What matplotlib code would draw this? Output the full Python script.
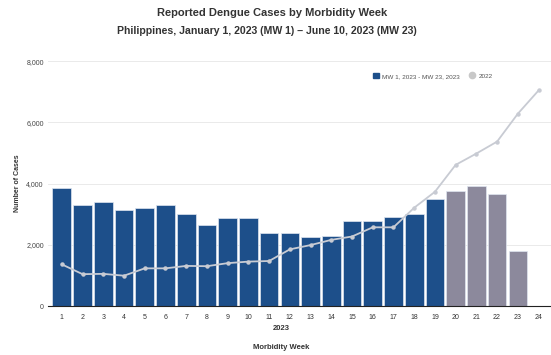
import numpy as np
import matplotlib
matplotlib.use('Agg')
import matplotlib.pyplot as plt
from matplotlib.lines import Line2D
from matplotlib.patches import Patch

plt.rcParams['font.family'] = ['Liberation Sans', 'DejaVu Sans']

# weekly dengue cases, MW 1-23 of 2023
weeks = list(range(1, 24))
cases_2023 = [3870, 3300, 3390, 3130, 3190, 3300, 3000, 2650, 2870, 2870,
              2380, 2380, 2260, 2300, 2790, 2790, 2900, 3020, 3500,
              3760, 3920, 3670, 1810]
# last 4 weeks are still being completed (delayed reports)
n_complete = 19

# same weeks, 2022
weeks_2022 = list(range(1, 25))
cases_2022 = [1360, 1040, 1050, 990, 1230, 1230, 1310, 1300, 1400, 1450,
              1470, 1850, 1990, 2160, 2270, 2570, 2570, 3210, 3730, 4610,
              4980, 5370, 6280, 7040]

tick_weeks = list(range(1, 25))
yticks = [0, 2000, 4000, 6000, 8000]

BLUE = '#1d4f8a'
GREY = '#8c899c'
LINE = '#c8cbd3'

fig = plt.figure(figsize=(5.51, 3.55), dpi=100)
ax = fig.add_axes([0.087, 0.138, 0.913, 0.69])

colors = [BLUE if i < n_complete else GREY for i in range(len(weeks))]
ax.bar(weeks, cases_2023, width=0.9, color=colors, edgecolor='#dfe6f0',
       linewidth=0.5, zorder=2)
ax.plot(weeks_2022, cases_2022, color=LINE, lw=1.3, marker='o', ms=2.2,
        mfc=LINE, mec=LINE, zorder=3)

ax.set_xlim(0.33, 24.6)
ax.set_ylim(0, 8000)
ax.set_xticks(tick_weeks)
ax.set_xticklabels([str(w) for w in tick_weeks], fontsize=5, color='#333333')
ax.set_yticks(yticks)
ax.set_yticklabels([f'{v:,}' for v in yticks], fontsize=5, color='#444444')
ax.tick_params(axis='x', length=0, pad=6)
ax.tick_params(axis='y', length=0, pad=3)
ax.grid(axis='y', color='#e6e6e6', lw=0.6, zorder=0)
for s in ['top', 'right', 'left']:
    ax.spines[s].set_visible(False)
ax.spines['bottom'].set_color('#222222')
ax.spines['bottom'].set_linewidth(0.8)

ax.set_ylabel('Number of Cases', fontsize=5, fontweight='bold', color='#333333',
              labelpad=4)

fig.text(0.51, 0.076, '2023', ha='center', va='center', fontsize=5.5,
         fontweight='bold', color='#333333')
fig.text(0.51, 0.022, 'Morbidity Week', ha='center', va='center', fontsize=5.5,
         fontweight='bold', color='#333333')

fig.text(0.493, 0.962, 'Reported Dengue Cases by Morbidity Week', ha='center',
         va='center', fontsize=8, fontweight='bold', color='#333333')
fig.text(0.485, 0.912, 'Philippines, January 1, 2023 (MW 1) \u2013 June 10, 2023 (MW 23)',
         ha='center', va='center', fontsize=7.6, fontweight='bold', color='#333333')

handles = [Patch(facecolor=BLUE, edgecolor=BLUE),
           Line2D([], [], ls='', marker='o', ms=4.5, mfc='#c8c8c8', mec='#c8c8c8')]
ax.legend(handles, ['MW 1, 2023 - MW 23, 2023', '2022'], loc='upper right',
          bbox_to_anchor=(0.895, 0.975), ncol=2, frameon=False, fontsize=4.6,
          handlelength=0.9, handleheight=0.9, columnspacing=1.5,
          handletextpad=0.5, labelcolor='#555555')

fig.savefig('out.png', dpi=100)
